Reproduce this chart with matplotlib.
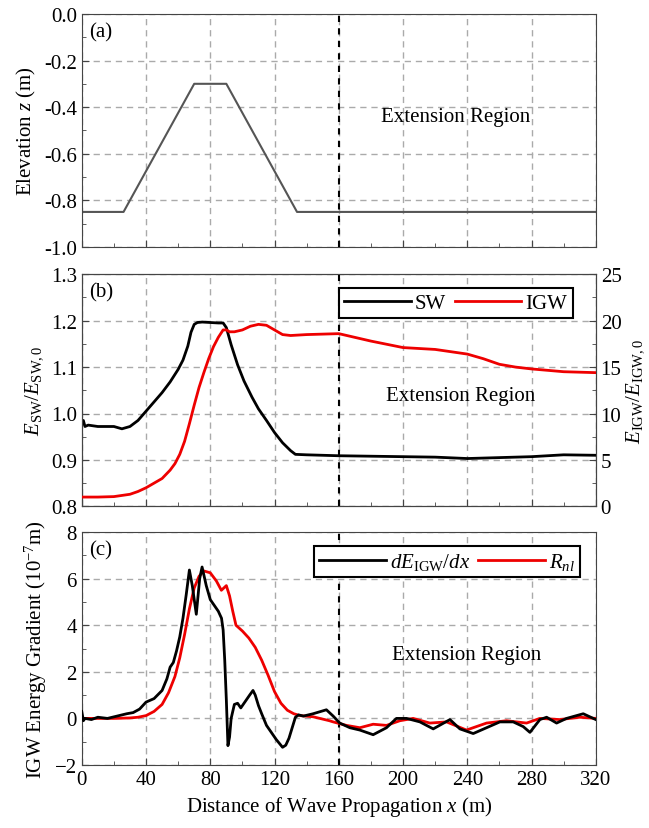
import numpy as np
import matplotlib
matplotlib.use("Agg")
import matplotlib.pyplot as plt
from matplotlib.ticker import MultipleLocator

plt.rcParams["font.family"] = ["Liberation Serif", "DejaVu Serif"]
plt.rcParams["mathtext.fontset"] = "custom"
plt.rcParams["mathtext.rm"] = "Liberation Serif"
plt.rcParams["mathtext.it"] = "Liberation Serif:italic"
plt.rcParams["font.size"] = 15

# -----------------------------------
# Data
# -----------------------------------
bed_x = [0, 26, 70, 90, 134, 320]
bed_z = [-0.85, -0.85, -0.30, -0.30, -0.85, -0.85]

sw_x = [0, 1, 2, 4, 10, 20, 25, 30, 35, 40, 45, 50, 55, 60, 63, 66, 68, 70, 72, 75, 80,
        85, 88, 90, 93, 97, 101, 106, 110, 115, 120, 125, 130, 133, 140, 160, 180,
        200, 220, 240, 260, 280, 300, 320]
sw_val = [0.975, 0.985, 0.972, 0.975, 0.972, 0.972, 0.967, 0.972, 0.985, 1.005, 1.025,
          1.045, 1.068, 1.095, 1.115, 1.145, 1.175, 1.192, 1.196, 1.197, 1.196, 1.195,
          1.195, 1.185, 1.148, 1.105, 1.070, 1.035, 1.010, 0.985, 0.959, 0.937, 0.920,
          0.912, 0.911, 0.909, 0.908, 0.907, 0.906, 0.903, 0.905, 0.907, 0.911, 0.910]

igw_x = [0, 10, 20, 30, 35, 40, 45, 50, 55, 58, 61, 64, 67, 70, 73, 76, 79, 82, 85, 88,
         90, 92, 95, 100, 105, 110, 115, 120, 125, 130, 140, 160, 180, 200, 220, 240,
         250, 260, 270, 280, 300, 320]
igw_val = [1.0, 1.0, 1.05, 1.3, 1.6, 2.0, 2.5, 3.0, 3.9, 4.6, 5.6, 7.0, 8.9, 10.9, 12.8,
           14.4, 15.9, 17.2, 18.2, 19.0, 19.0, 18.8, 18.8, 19.0, 19.4, 19.6, 19.5,
           19.0, 18.5, 18.4, 18.5, 18.6, 17.8, 17.1, 16.9, 16.4, 15.9, 15.3, 15.0,
           14.8, 14.5, 14.4]

dedx_x = [0, 1, 2, 6, 10, 16, 22, 28, 32, 36, 40, 45, 50, 53, 55, 57, 59, 61, 63, 65,
          67, 68.8, 71.3, 73.4, 74.9, 77.5, 80, 82, 85, 87, 88, 89, 90, 91, 92, 93,
          95, 97, 99, 102, 104.5, 106.6, 108, 110, 112, 115, 118, 121, 125, 127, 129,
          131, 133, 135, 138, 144, 152.3, 156.5, 160.6, 166.9, 173.1, 181.4, 189.7,
          195.9, 202.2, 210.5, 218.8, 229.2, 235.4, 243.7, 252, 260.3, 268.6, 274.8,
          279, 285.2, 289.4, 295.6, 301.8, 312.2, 320]
dedx_val = [0.3, -0.1, 0.0, -0.05, 0.05, 0.0, 0.1, 0.2, 0.25, 0.4, 0.7, 0.85, 1.2, 1.7,
            2.2, 2.4, 2.9, 3.5, 4.3, 5.3, 6.37, 5.7, 4.47, 6.0, 6.5, 5.7, 5.1, 4.9, 4.6,
            4.3, 3.8, 2.5, 0.8, -1.17, -0.8, 0.0, 0.6, 0.65, 0.45, 0.75, 1.0, 1.2, 1.0,
            0.55, 0.2, -0.3, -0.6, -0.9, -1.24, -1.15, -0.85, -0.4, 0.05, 0.15, 0.1,
            0.2, 0.37, 0.1, -0.2, -0.4, -0.5, -0.7, -0.4, 0.0, 0.0, -0.15, -0.45,
            -0.05, -0.45, -0.65, -0.4, -0.15, -0.15, -0.35, -0.6, -0.05, 0.05, -0.2,
            0.0, 0.2, -0.05]

rnl_x = [0, 10, 20, 30, 35, 40, 45, 50, 54, 58, 61, 64, 67, 70, 73, 76, 80, 83.8, 86.9,
         90, 92, 94, 96, 100, 104, 108, 112, 116, 120, 124, 128, 132, 136, 144, 154.2,
         156.5, 164.8, 173.1, 181.4, 189.7, 198, 206.3, 216.7, 227.1, 239.5, 252,
         264.4, 276.9, 285.2, 297.6, 310, 320]
rnl_val = [0.0, 0.0, 0.0, 0.02, 0.05, 0.12, 0.3, 0.6, 1.1, 1.8, 2.6, 3.6, 4.7, 5.6, 6.1,
           6.33, 6.25, 5.9, 5.5, 5.7, 5.26, 4.6, 4.0, 3.75, 3.45, 3.05, 2.5, 1.85,
           1.15, 0.65, 0.35, 0.2, 0.12, 0.07, -0.1, -0.15, -0.3, -0.4, -0.25, -0.3,
           -0.1, 0.0, -0.2, -0.15, -0.5, -0.2, -0.1, -0.2, 0.0, -0.05, 0.05, 0.0]

# -----------------------------------
# Figure layout
# -----------------------------------
fig = plt.figure(figsize=(6.49, 8.29), dpi=100)
L, W = 0.126, 0.792
ax_a = fig.add_axes([L, 0.701, W, 0.281])
ax_b = fig.add_axes([L, 0.388, W, 0.280])
ax_c = fig.add_axes([L, 0.076, W, 0.281])
ax_b2 = ax_b.twinx()

frame_col = "#444444"
grid_kw = dict(color="#aaaaaa", lw=1.0, dashes=(4.5, 3.5))


def style(ax):
    ax.set_xlim(0, 320)
    ax.xaxis.set_major_locator(MultipleLocator(40))
    ax.xaxis.set_minor_locator(MultipleLocator(20))
    ax.tick_params(which="both", direction="in", colors=frame_col, labelcolor="black",
                   top=False, right=False)
    ax.tick_params(which="major", length=5)
    ax.tick_params(which="minor", length=3)
    for s in ax.spines.values():
        s.set_color(frame_col)
    ax.grid(True, which="major", **grid_kw)
    ax.axvline(160, color="black", lw=1.5, dashes=(3, 3), zorder=3)


# (a) bathymetry
style(ax_a)
ax_a.plot(bed_x, bed_z, color="#555555", lw=1.5)
ax_a.set_ylim(-1.0, 0.0)
ax_a.yaxis.set_major_locator(MultipleLocator(0.2))
ax_a.yaxis.set_minor_locator(MultipleLocator(0.1))
ax_a.set_yticklabels([f"{v:.1f}" for v in ax_a.get_yticks()])
ax_a.tick_params(labelbottom=False)
ax_a.set_ylabel("Elevation $z$ (m)")
ax_a.text(233, -0.44, "Extension Region", ha="center", va="center")
ax_a.text(0.015, 0.965, "(a)", transform=ax_a.transAxes, ha="left", va="top")

# (b) energy ratios
style(ax_b)
ax_b.set_ylim(0.8, 1.3)
ax_b.yaxis.set_major_locator(MultipleLocator(0.1))
ax_b.yaxis.set_minor_locator(MultipleLocator(0.05))
ax_b.set_yticks(np.arange(0.8, 1.31, 0.1))
ax_b.set_yticklabels([f"{v:.1f}" for v in np.arange(0.8, 1.31, 0.1)])
ax_b.tick_params(labelbottom=False)
ax_b.set_ylabel(r"$E_{\rm SW}/E_{\rm SW,0}$")
l_sw, = ax_b.plot(sw_x, sw_val, color="black", lw=2.0, zorder=4)

ax_b2.set_ylim(0, 25)
ax_b2.yaxis.set_major_locator(MultipleLocator(5))
ax_b2.yaxis.set_minor_locator(MultipleLocator(2.5))
ax_b2.tick_params(which="both", direction="in", colors=frame_col, labelcolor="black")
ax_b2.tick_params(which="major", length=5)
ax_b2.tick_params(which="minor", length=3)
for s in ax_b2.spines.values():
    s.set_color(frame_col)
ax_b2.set_ylabel(r"$E_{\rm IGW}/E_{\rm IGW,0}$", labelpad=2)
l_igw, = ax_b2.plot(igw_x, igw_val, color="#ee0000", lw=2.0, zorder=4)
ax_b2.text(236, 11.9, "Extension Region", ha="center", va="center")
ax_b2.text(0.015, 0.965, "(b)", transform=ax_b.transAxes, ha="left", va="top")
leg = ax_b2.legend([l_sw, l_igw], ["SW", "IGW"], loc="upper right", ncol=2,
                   fancybox=False, edgecolor="black", framealpha=1, handlelength=3.2,
                   columnspacing=0.4, handletextpad=0.2, borderpad=0.25,
                   bbox_to_anchor=(0.975, 0.985))
leg.get_frame().set_linewidth(1.5)

# (c) energy gradient
style(ax_c)
ax_c.set_ylim(-2, 8)
ax_c.yaxis.set_major_locator(MultipleLocator(2))
ax_c.yaxis.set_minor_locator(MultipleLocator(1))
ax_c.plot(dedx_x, dedx_val, color="black", lw=2.0, zorder=5, label=r"$dE_{\rm IGW}/dx$")
ax_c.plot(rnl_x, rnl_val, color="#ee0000", lw=2.0, zorder=4, label=r"$R_{nl}$")
ax_c.set_ylabel(r"IGW Energy Gradient (10$^{-7}$m)")
ax_c.set_xlabel("Distance of Wave Propagation $x$ (m)")
ax_c.text(239.5, 2.76, "Extension Region", ha="center", va="center")
ax_c.text(0.015, 0.965, "(c)", transform=ax_c.transAxes, ha="left", va="top")
leg = ax_c.legend(loc="upper right", ncol=2, fancybox=False, edgecolor="black",
                  framealpha=1, handlelength=3.2, columnspacing=0.4,
                  handletextpad=0.2, borderpad=0.25, bbox_to_anchor=(0.99, 0.985))
leg.get_frame().set_linewidth(1.5)

fig.savefig("out.png", dpi=100)
